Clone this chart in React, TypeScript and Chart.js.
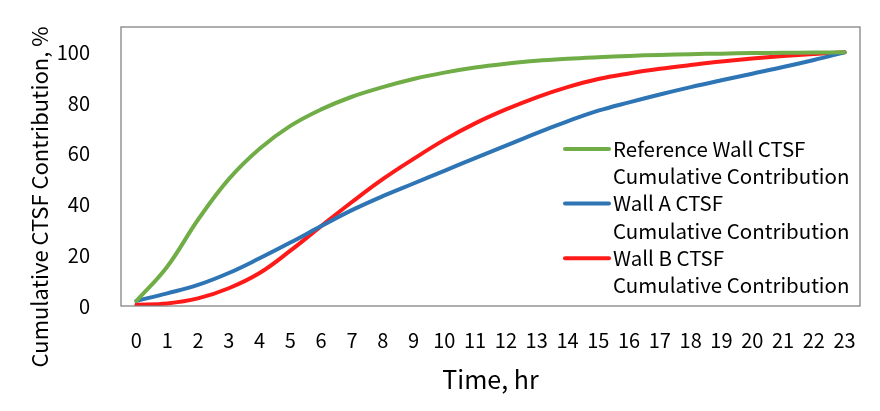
import { useEffect, useRef } from 'react';
import { Chart, registerables, Plugin } from 'chart.js';

Chart.register(...registerables);

// 시간 (hr)
const hours = ['0', '1', '2', '3', '4', '5', '6', '7', '8', '9', '10', '11', '12', '13', '14', '15', '16', '17', '18', '19', '20', '21', '22', '23'];

// 누적 기여율 (%)
const referenceWall = [2, 15.5, 34, 50, 62, 71, 77.5, 82.5, 86.3, 89.5, 92, 94, 95.5, 96.7, 97.5, 98.1, 98.6, 99, 99.3, 99.5, 99.7, 99.8, 99.9, 100];
const wallA = [2, 5, 8.3, 13, 18.8, 25, 31.5, 37.8, 43.3, 48.3, 53.3, 58.3, 63.2, 68.2, 72.8, 77, 80.3, 83.4, 86.3, 89, 91.6, 94.2, 97, 100];
const wallB = [0.5, 1, 3, 7, 13, 21.8, 31.5, 41, 50, 58, 65.5, 72, 77.5, 82.3, 86.3, 89.5, 91.7, 93.5, 95, 96.4, 97.6, 98.6, 99.4, 100];

const seriesLabels = [
  ['Reference Wall CTSF', 'Cumulative Contribution'],
  ['Wall A CTSF', 'Cumulative Contribution'],
  ['Wall B CTSF', 'Cumulative Contribution'],
];
const seriesColors = ['#70AD47', '#2E75B6', '#FF1A1A'];

const yTicks = [0, 20, 40, 60, 80, 100];
const yTitle = 'Cumulative CTSF Contribution, %';

const FONT = '"Noto Sans CJK KR", "Noto Sans", sans-serif';

// 플롯 영역 테두리
const framePlugin: Plugin = {
  id: 'frame',
  afterDraw(chart) {
    const { ctx, chartArea } = chart;
    ctx.save();
    ctx.strokeStyle = '#7f7f7f';
    ctx.lineWidth = 1.25;
    ctx.strokeRect(chartArea.left, chartArea.top, chartArea.right - chartArea.left, chartArea.bottom - chartArea.top);
    ctx.restore();
  },
};

// 세로축 제목 (차트 영역 중앙보다 조금 아래에 위치)
const yTitlePlugin: Plugin = {
  id: 'yTitle',
  afterDraw(chart) {
    const { ctx } = chart;
    ctx.save();
    ctx.translate(40, 197);
    ctx.rotate(-Math.PI / 2);
    ctx.font = `22px ${FONT}`;
    ctx.fillStyle = '#000';
    ctx.textAlign = 'center';
    ctx.textBaseline = 'middle';
    ctx.fillText(yTitle, 0, 0);
    ctx.restore();
  },
};

// 차트 안쪽 오른쪽 아래 범례 (두 줄 텍스트)
const insideLegend: Plugin = {
  id: 'insideLegend',
  afterDraw(chart) {
    const { ctx, chartArea } = chart;
    const lineH = 27.3;
    const x0 = chartArea.right - 295;
    const y0 = 149;
    ctx.save();
    ctx.font = `20.5px ${FONT}`;
    ctx.textBaseline = 'middle';
    ctx.fillStyle = '#000';
    chart.data.datasets.forEach((ds, i) => {
      const y = y0 + i * lineH * 2;
      ctx.strokeStyle = ds.borderColor as string;
      ctx.lineWidth = 4;
      ctx.lineCap = 'round';
      ctx.beginPath();
      ctx.moveTo(x0, y);
      ctx.lineTo(x0 + 44, y);
      ctx.stroke();
      const lines = (ds.label || '').split('\n');
      lines.forEach((t, j) => ctx.fillText(t, x0 + 48, y + j * lineH));
    });
    ctx.restore();
  },
};

export default function App() {
  const canvasRef = useRef<HTMLCanvasElement>(null);
  const chartRef = useRef<Chart | null>(null);

  useEffect(() => {
    if (!canvasRef.current) return;
    if (chartRef.current) chartRef.current.destroy();

    const series = [referenceWall, wallA, wallB];

    chartRef.current = new Chart(canvasRef.current, {
      type: 'line',
      data: {
        labels: hours,
        datasets: series.map((d, i) => ({
          label: seriesLabels[i].join('\n'),
          data: d,
          borderColor: seriesColors[i],
          backgroundColor: seriesColors[i],
          borderWidth: 4,
          borderCapStyle: 'round' as const,
          pointRadius: 0,
          tension: 0.4,
          fill: false,
        })),
      },
      options: {
        responsive: true,
        maintainAspectRatio: false,
        animation: false,
        layout: { padding: { top: 27, right: 20, left: 0, bottom: 0 } },
        plugins: {
          legend: { display: false },
          tooltip: { enabled: false },
        },
        scales: {
          x: {
            offset: true,
            grid: { display: false, drawTicks: false },
            border: { display: false },
            ticks: {
              color: '#000',
              font: { family: FONT, size: 20 },
              padding: 22,
              maxRotation: 0,
              autoSkip: false,
            },
            title: {
              display: true,
              text: 'Time, hr',
              color: '#000',
              font: { family: FONT, size: 25 },
              padding: { top: 0, bottom: 17 },
            },
            afterFit: (scale) => {
              scale.height = 105;
              scale.paddingLeft = 0;
              scale.paddingRight = 0;
            },
          },
          y: {
            min: 0,
            max: 110,
            grid: { display: false, drawTicks: false },
            border: { display: false },
            ticks: {
              color: '#000',
              font: { family: FONT, size: 20 },
              padding: 31,
            },
            afterBuildTicks: (scale) => {
              scale.ticks = yTicks.map((v) => ({ value: v }));
            },
            title: { display: false },
            afterFit: (scale) => {
              scale.width = 121;
              scale.paddingTop = 0;
              scale.paddingBottom = 0;
            },
          },
        },
      },
      plugins: [framePlugin, yTitlePlugin, insideLegend],
    });

    return () => {
      if (chartRef.current) {
        chartRef.current.destroy();
        chartRef.current = null;
      }
    };
  }, []);

  return (
    <div style={{ position: 'fixed', left: 0, top: 0, width: 880, height: 411, background: '#fff' }}>
      <canvas ref={canvasRef} />
    </div>
  );
}
